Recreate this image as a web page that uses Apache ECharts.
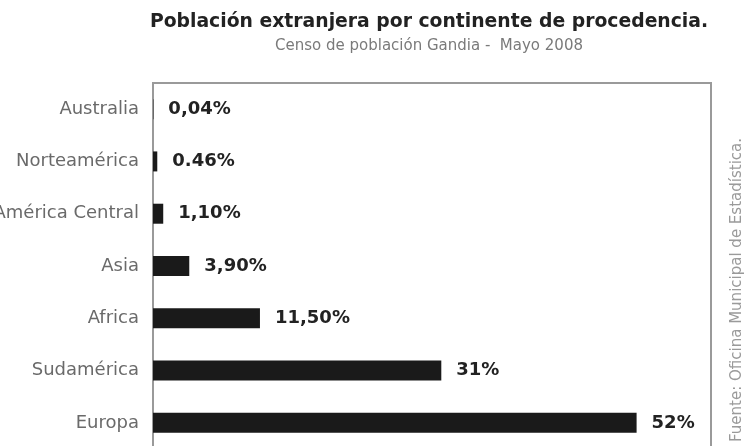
<!DOCTYPE html>
<html>
<head>
<meta charset="utf-8">
<script src="https://cdn.jsdelivr.net/npm/echarts@6/dist/echarts.min.js"></script>
<style>html,body{margin:0;padding:0;background:#fff;}#c{width:745px;height:446px;}</style>
</head>
<body>
<div id="c"></div>
<script>
const categories = ['Australia', 'Norteamérica', 'América Central', 'Asia', 'Africa', 'Sudamérica', 'Europa'];
const values = [0.04, 0.46, 1.10, 3.90, 11.50, 31, 52];
const valueLabels = ['0,04%', '0.46%', '1,10%', '3,90%', '11,50%', '31%', '52%'];

const chart = echarts.init(document.getElementById('c'), null, {renderer: 'canvas'});
chart.setOption({
  backgroundColor: '#ffffff',
  animation: false,
  title: {
    text: 'Población extranjera por continente de procedencia.',
    subtext: 'Censo de población Gandia -  Mayo 2008',
    left: 424, top: 8, textAlign: 'center',
    itemGap: 7,
    textStyle: {fontFamily: 'DejaVu Sans', fontWeight: 'bold', fontSize: 18.8, color: '#222'},
    subtextStyle: {fontFamily: 'DejaVu Sans', fontSize: 15, color: '#7a7a7a'}
  },
  grid: {left: 153, top: 83, width: 558, height: 366, outerBoundsMode: 'none', containLabel: false,
    show: true, borderColor: '#9a9a9a', borderWidth: 2, backgroundColor: 'transparent'},
  xAxis: {
    type: 'value', min: 0, max: 60, show: false
  },
  yAxis: {
    type: 'category', data: categories, inverse: true,
    axisLine: {show: false}, axisTick: {show: false},
    axisLabel: {fontFamily: 'DejaVu Sans', fontSize: 18, color: '#6a6a6a', margin: 14}
  },
  series: [{
    type: 'bar',
    data: values,
    barWidth: 20,
    itemStyle: {color: '#1a1a1a'},
    label: {
      show: true, position: 'right', distance: 15,
      fontFamily: 'DejaVu Sans', fontWeight: 'bold', fontSize: 18, color: '#222',
      formatter: p => valueLabels[p.dataIndex]
    }
  }],
  graphic: [{
    type: 'text', x: 737, y: 138, rotation: Math.PI / 2,
    style: {text: 'Fuente: Oficina Municipal de Estadística.', align: 'right', verticalAlign: 'middle',
      fontFamily: 'DejaVu Sans', fontSize: 15, fill: '#9a9a9a'}
  }]
});
</script>
</body>
</html>
